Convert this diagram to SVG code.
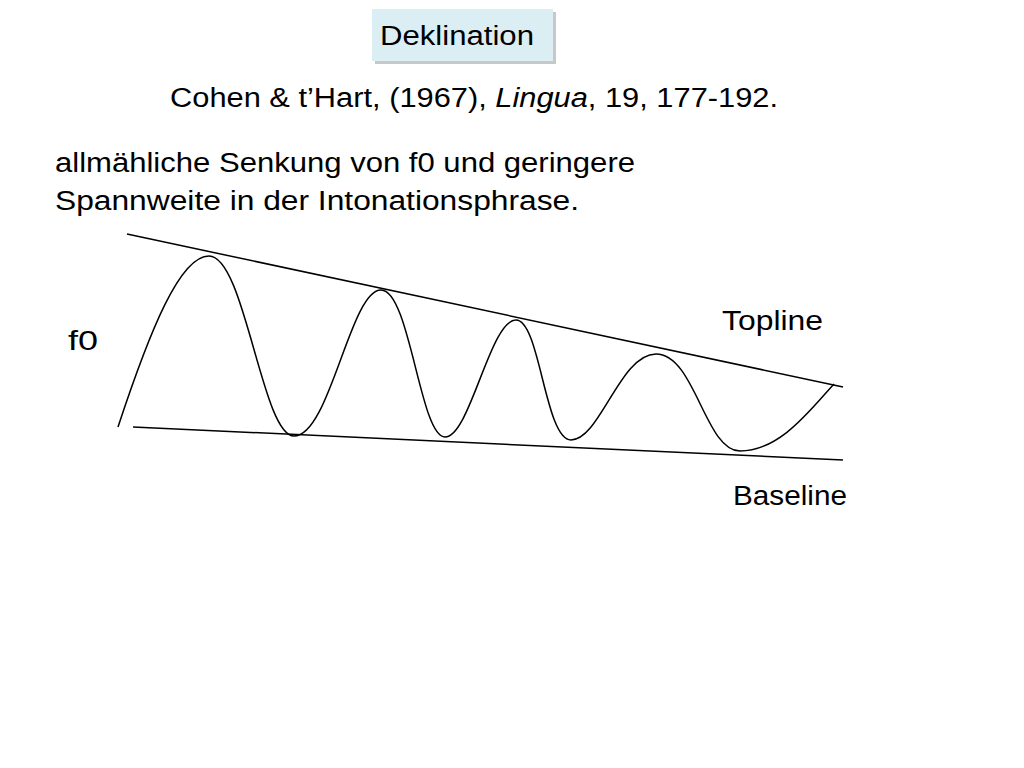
<svg xmlns="http://www.w3.org/2000/svg" width="1024" height="768" viewBox="0 0 1024 768">
<style>
text{font-family:"Liberation Sans",Arial,sans-serif;fill:#000;font-size:27px}
.l{stroke:#000;stroke-width:1.5;fill:none}
</style>
<rect width="1024" height="768" fill="#fff"/>
<g id="title">
<rect x="375" y="12" width="181" height="52" fill="#c8c8c8"/>
<rect x="372" y="9" width="181" height="52" fill="#dbeef4"/>
<text x="380" y="45" textLength="154" lengthAdjust="spacingAndGlyphs">Deklination</text>
</g>
<text x="170" y="107" textLength="608" lengthAdjust="spacingAndGlyphs">Cohen &amp; t’Hart, (1967), <tspan font-style="italic">Lingua</tspan>, 19, 177-192.</text>
<text x="55" y="172" textLength="580" lengthAdjust="spacingAndGlyphs">allmähliche Senkung von f0 und geringere</text>
<text x="55" y="210" textLength="524" lengthAdjust="spacingAndGlyphs">Spannweite in der Intonationsphrase.</text>
<g id="connectors">
<line class="l" x1="127" y1="234" x2="843" y2="387"/>
<line class="l" x1="133" y1="427" x2="843" y2="460"/>
<path class="l" d="M118,427 C150,330 180,256 209,256 C245,256 262,436 294,436 C330,436 350,290 381,290 C410,290 420,437 445,437 C470,437 490,320 516,320 C540,320 545,440 571,440 C600,440 620,354 656,354 C695,354 705,451 740,451 C780,451 810,410 834,384"/>
</g>
<text x="722" y="330" textLength="101" lengthAdjust="spacingAndGlyphs">Topline</text>
<text x="68" y="350" textLength="30" lengthAdjust="spacingAndGlyphs">f0</text>
<text x="733" y="505" textLength="114" lengthAdjust="spacingAndGlyphs">Baseline</text>
</svg>
